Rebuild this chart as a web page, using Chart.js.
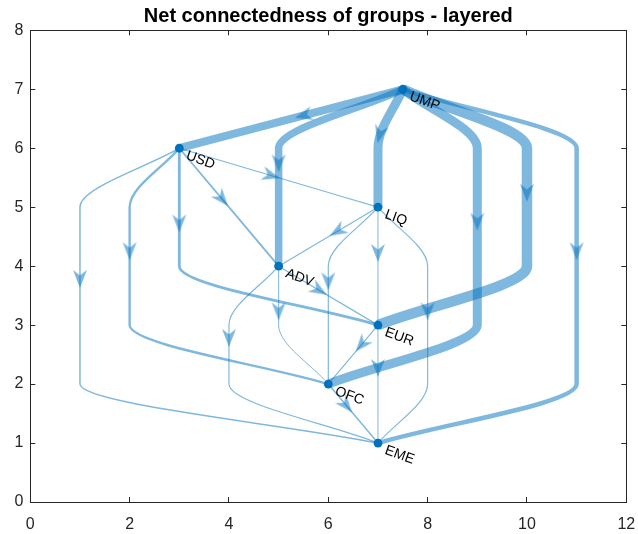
<!DOCTYPE html>
<html><head><meta charset="utf-8">
<style>html,body{margin:0;padding:0;background:#fff}#wrap{width:638px;height:534px}</style>
<script src="https://cdn.jsdelivr.net/npm/chart.js@4"></script>
</head><body><div id="wrap"><canvas id="c" width="638" height="534"></canvas></div>
<script>
// ---- data ----
const nodeNames = ['UMP','USD','LIQ','ADV','EUR','OFC','EME'];
const nodeX = [7.5, 3, 7, 5, 7, 6, 7];
const nodeY = [7, 6, 5, 4, 3, 2, 1];

const edgeSource = [0,0,0,0,0,0, 1,1,1,1,1, 2,2,2,2, 3,3,3, 4,4, 5];
const edgeTarget = [1,3,2,5,4,6, 2,3,4,5,6, 3,4,5,6, 4,5,6, 5,6, 6];
const edgeWeight = [8,7.5,9,9,10.5,4.5, 1.2,1.8,2.8,2.4,1.5, 1.2,1,1.2,1.2, 1.2,1,1.2, 1.2,1, 1.5];
// x of the routing (dummy) points on each intermediate layer, top to bottom
const edgeRouteX = [
  [], [5,5], [7], [9,9,9,9], [10,10,10], [11,11,11,11,11],
  [], [4], [3,3], [2,2,2], [1,1,1,1],
  [], [7], [6,6], [8,8,8],
  [], [5], [4,4],
  [], [7],
  []
];
const arrowX = [5.52, 5, 7.04, 9, 10, 11, 4.83, 3.85, 3, 2, 1, 6.2, 7, 6, 8, 5.8, 5, 4, 6.68, 7, 6.35];
const arrowY = [6.56, 5.76, 6.25, 4.77, 5.26, 4.27, 5.54, 5.15, 4.74, 4.27, 3.8, 4.6, 4.24, 3.76, 3.25, 3.6, 3.25, 2.8, 2.68, 2.29, 1.65];

const xTicks = [0,2,4,6,8,10,12];
const yTicks = [0,1,2,3,4,5,6,7,8];
const titleText = 'Net connectedness of groups - layered';

// ---- styling ----
const EDGE = 'rgba(0,114,189,0.5)';
const NODE = 'rgb(0,114,189)';
const AXC = '#262626';
const FONT = "'Liberation Sans', Arial, Helvetica, sans-serif";

const edgePoints = edgeSource.map((s, i) => {
  const t = edgeTarget[i];
  const pts = [{x: nodeX[s], y: nodeY[s]}];
  edgeRouteX[i].forEach((rx, k) => pts.push({x: rx, y: nodeY[s] - 1 - k}));
  pts.push({x: nodeX[t], y: nodeY[t]});
  return pts;
});

function makeArrow() {
  const c = document.createElement('canvas');
  c.width = 26; c.height = 26;
  const g = c.getContext('2d');
  g.translate(13, 13);
  g.beginPath();
  g.moveTo(10, 0); g.lineTo(-8, -7); g.lineTo(-2.5, 0); g.lineTo(-8, 7); g.closePath();
  g.fillStyle = EDGE; g.fill();
  return c;
}
const arrowImg = makeArrow();

const datasets = [];
edgePoints.forEach((pts, i) => {
  datasets.push({
    type: 'line', indexAxis: 'y', data: pts,
    borderColor: EDGE, borderWidth: edgeWeight[i],
    cubicInterpolationMode: 'monotone', pointRadius: 0, pointHoverRadius: 0,
    fill: false, borderJoinStyle: 'round', order: 3
  });
});
datasets.push({
  type: 'scatter',
  data: arrowX.map((x, i) => ({x, y: arrowY[i]})),
  pointStyle: arrowImg,
  rotation: (ctx) => {
    const i = ctx.dataIndex;
    if (i === undefined) return 0;
    const xs = ctx.chart.scales.x, ys = ctx.chart.scales.y;
    const pts = edgePoints[i];
    const ay = arrowY[i];
    let k = 0;
    while (k < pts.length - 2 && ay < pts[k + 1].y) k++;
    const p1 = pts[k], p2 = pts[k + 1];
    let dx = xs.getPixelForValue(p2.x) - xs.getPixelForValue(p1.x);
    const dy = ys.getPixelForValue(p2.y) - ys.getPixelForValue(p1.y);
    // curved lead-in into a vertical run: tangent is steeper than the chord
    if (k + 2 < pts.length && pts[k + 2].x === p2.x && p1.x !== p2.x) dx *= 0.6;
    return Math.atan2(dy, dx) * 180 / Math.PI;
  },
  order: 2
});
datasets.push({
  type: 'scatter',
  data: nodeX.map((x, i) => ({x, y: nodeY[i]})),
  pointRadius: 4.4, pointHoverRadius: 4.4,
  backgroundColor: NODE, borderWidth: 0, order: 1
});

const labelPlugin = {
  id: 'nodeLabels',
  afterDatasetsDraw(chart) {
    const ctx = chart.ctx, xs = chart.scales.x, ys = chart.scales.y;
    ctx.save();
    ctx.font = '14px ' + FONT;
    ctx.fillStyle = '#000';
    ctx.textBaseline = 'alphabetic';
    ctx.textAlign = 'left';
    nodeNames.forEach((n, i) => {
      ctx.save();
      ctx.translate(xs.getPixelForValue(nodeX[i]) + 6, ys.getPixelForValue(nodeY[i]) + 10.5);
      ctx.rotate(20 * Math.PI / 180);
      ctx.fillText(n, 0, 0);
      ctx.restore();
    });
    ctx.restore();
  }
};

const tickFont = {family: FONT, size: 16};
const gridIn = {drawOnChartArea: false, drawTicks: true, tickLength: -5, color: AXC, lineWidth: 1};
const noPad = s => { s.paddingLeft = 0; s.paddingRight = 0; };

new Chart(document.getElementById('c'), {
  type: 'line',
  data: {datasets},
  options: {
    responsive: false, animation: false, events: [],
    layout: {padding: {left: 0, right: 11.7, top: 0, bottom: 0}},
    plugins: {
      legend: {display: false}, tooltip: {enabled: false},
      title: {display: true, fullSize: false, text: titleText, color: '#000',
        font: {family: FONT, size: 20, weight: 'bold'}, padding: {top: 4, bottom: 2.3}}
    },
    scales: {
      x: {type: 'linear', position: 'bottom', min: 0, max: 12,
        afterBuildTicks: s => { s.ticks = xTicks.map(v => ({value: v})); },
        afterFit: s => { s.height = 32; noPad(s); },
        ticks: {font: tickFont, color: AXC, padding: 18, maxRotation: 0},
        grid: gridIn, border: {color: AXC, width: 1}},
      y: {type: 'linear', position: 'left', min: 0, max: 8,
        afterBuildTicks: s => { s.ticks = yTicks.map(v => ({value: v})); },
        afterFit: s => { s.width = 30.3; },
        ticks: {font: tickFont, color: AXC, padding: 12},
        grid: gridIn, border: {color: AXC, width: 1}},
      x2: {type: 'linear', position: 'top', min: 0, max: 12,
        afterBuildTicks: s => { s.ticks = xTicks.map(v => ({value: v})); },
        afterFit: s => { s.height = 0; noPad(s); },
        ticks: {display: false}, grid: gridIn, border: {color: AXC, width: 1}},
      y2: {type: 'linear', position: 'right', min: 0, max: 8,
        afterBuildTicks: s => { s.ticks = yTicks.map(v => ({value: v})); },
        afterFit: s => { s.width = 0; },
        ticks: {display: false}, grid: gridIn, border: {color: AXC, width: 1}}
    }
  },
  plugins: [labelPlugin]
});
</script></body></html>
